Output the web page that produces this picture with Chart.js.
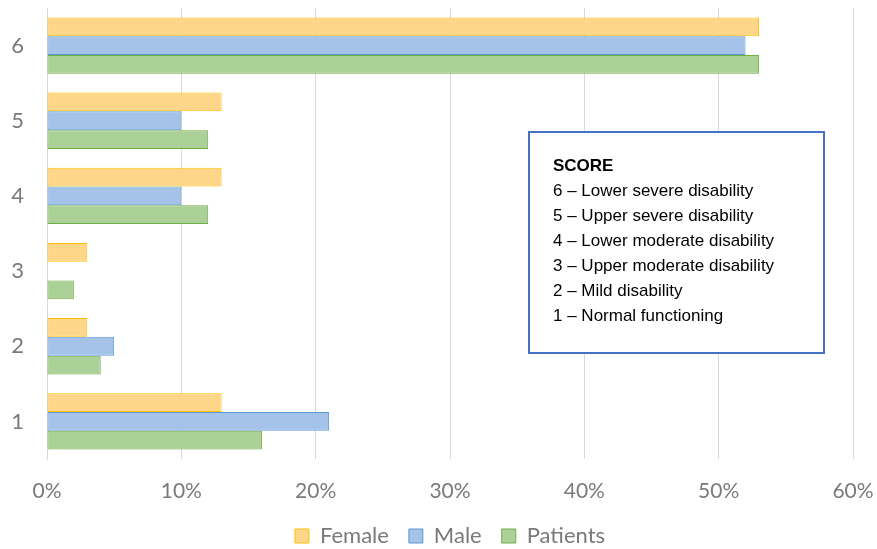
<!DOCTYPE html>
<html>
<head>
<meta charset="utf-8">
<script src="https://cdn.jsdelivr.net/npm/chart.js@4"></script>
<style>
  html, body { margin: 0; padding: 0; background: #fff; }
  #wrap { width: 877px; height: 549px; }
</style>
</head>
<body>
<div id="wrap"><canvas id="myChart" width="877" height="549"></canvas></div>
<script>
// data
const scores = ['6', '5', '4', '3', '2', '1'];
const female = [53, 13, 13, 3, 3, 13];
const male = [52, 10, 10, 0, 5, 21];
const patients = [53, 12, 12, 2, 4, 16];
const xTicks = [0, 10, 20, 30, 40, 50, 60];
const scoreNotes = [
  '6 \u2013 Lower severe disability',
  '5 \u2013 Upper severe disability',
  '4 \u2013 Lower moderate disability',
  '3 \u2013 Upper moderate disability',
  '2 \u2013 Mild disability',
  '1 \u2013 Normal functioning'
];

const gray = '#7a7a7a';

// text box with score meanings
const scoreBox = {
  id: 'scoreBox',
  afterDraw(chart) {
    const ctx = chart.ctx;
    ctx.save();
    ctx.fillStyle = '#fff';
    ctx.fillRect(529, 132, 295, 221);
    ctx.strokeStyle = '#4472c4';
    ctx.lineWidth = 2;
    ctx.strokeRect(529, 132, 295, 221);
    ctx.fillStyle = '#000';
    ctx.textBaseline = 'middle';
    ctx.font = 'bold 17px "Liberation Sans", Arial, sans-serif';
    ctx.fillText('SCORE', 553, 166);
    ctx.font = '17px "Liberation Sans", Arial, sans-serif';
    scoreNotes.forEach((t, i) => ctx.fillText(t, 553, 191 + i * 25));
    ctx.restore();
  }
};

let myChart = document.getElementById('myChart').getContext('2d');
let scoreChart = new Chart(myChart, {
  type: 'bar',
  data: {
    labels: scores,
    datasets: [{
      label: 'Female',
      data: female,
      backgroundColor: '#fdd68a',
      borderColor: '#ffc000',
      borderWidth: 1,
      borderSkipped: false
    }, {
      label: 'Male',
      data: male,
      backgroundColor: '#a5c3e8',
      borderColor: '#5b9bd5',
      borderWidth: 1,
      borderSkipped: false
    }, {
      label: 'Patients',
      data: patients,
      backgroundColor: '#acd198',
      borderColor: '#70ad47',
      borderWidth: 1,
      borderSkipped: false
    }]
  },
  options: {
    indexAxis: 'y',
    responsive: false,
    animation: false,
    layout: { padding: { top: 8, right: 24, left: 0, bottom: -8 } },
    datasets: { bar: { categoryPercentage: 0.75, barPercentage: 1 } },
    scales: {
      x: {
        min: 0,
        max: 60,
        afterBuildTicks: (s) => { s.ticks = xTicks.map(v => ({ value: v })); },
        afterFit: (s) => { s.height = 46; },
        grid: { color: '#d9d9d9', tickLength: 20, tickColor: 'rgba(0,0,0,0)' },
        border: { display: false },
        ticks: {
          padding: 0,
          color: gray,
          font: { family: 'Lato', size: 21 },
          callback: (v) => v + '%'
        }
      },
      y: {
        afterFit: (s) => { s.width = 47; },
        grid: { drawOnChartArea: false, tickLength: 23, tickColor: 'rgba(0,0,0,0)' },
        border: { color: '#d9d9d9' },
        ticks: {
          padding: 0,
          crossAlign: 'center',
          color: gray,
          font: { family: 'Lato', size: 22, lineHeight: 0.7 }
        }
      }
    },
    plugins: {
      legend: {
        position: 'bottom',
        fullSize: false,
        labels: {
          color: gray,
          font: { family: 'Lato', size: 22 },
          boxWidth: 14,
          boxHeight: 14,
          padding: 20
        }
      },
      tooltip: { enabled: false }
    }
  },
  plugins: [scoreBox]
});
</script>
</body>
</html>
